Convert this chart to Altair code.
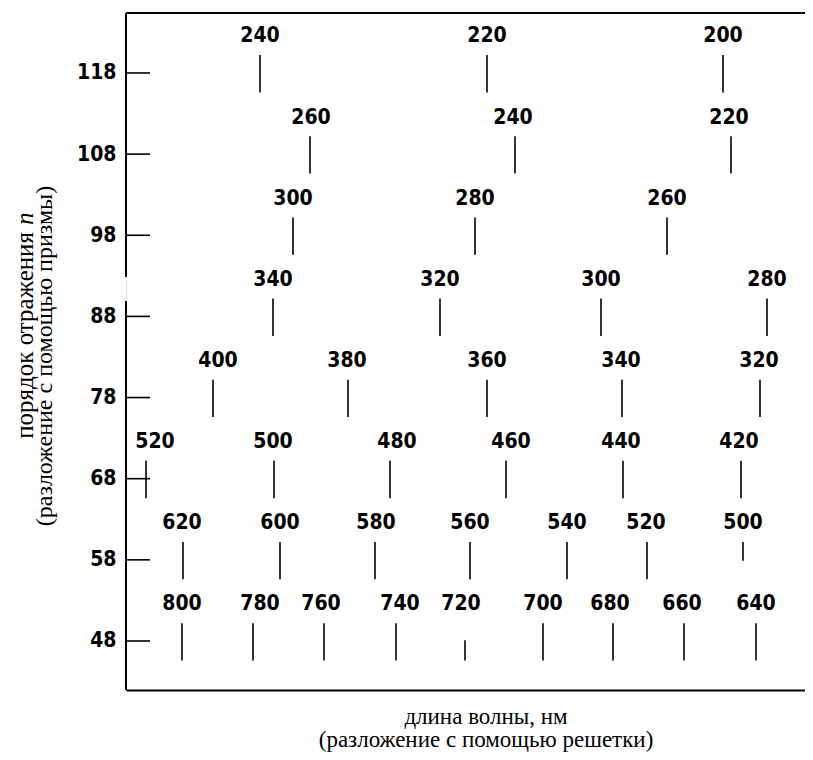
import altair as alt
import pandas as pd

# diffraction order (prism axis)
orders = [118, 118, 118,
          108, 108, 108,
          98, 98, 98,
          88, 88, 88, 88,
          78, 78, 78, 78, 78,
          68, 68, 68, 68, 68, 68,
          58, 58, 58, 58, 58, 58, 58,
          48, 48, 48, 48, 48, 48, 48, 48, 48]
# wavelength labels, nm
wavelengths = [240, 220, 200,
               260, 240, 220,
               300, 280, 260,
               340, 320, 300, 280,
               400, 380, 360, 340, 320,
               520, 500, 480, 460, 440, 420,
               620, 600, 580, 560, 540, 520, 500,
               800, 780, 760, 740, 720, 700, 680, 660, 640]
# horizontal position along the grating-dispersion axis (arbitrary units)
positions = [134, 361, 597,
             184, 389, 605,
             167, 349, 541,
             147, 314, 475, 641,
             87, 222, 361, 496, 634,
             20, 148, 264, 380, 497, 615,
             57, 154, 249, 344, 441, 521, 617,
             56, 127, 198, 270, 339, 417, 487, 558, 630]
label_positions = [134, 361, 597,
                   185, 387, 603,
                   167, 349, 541,
                   147, 314, 475, 641,
                   92, 221, 361, 495, 633,
                   29, 147, 271, 385, 495, 613,
                   56, 154, 250, 344, 441, 520, 617,
                   56, 134, 195, 274, 335, 417, 484, 556, 630]
# vertical extent of each line, relative to its order
line_up = [2.2] * len(orders)
line_down = [2.4] * len(orders)
line_up[35] = 0.1   # 720 nm line is short
line_down[30] = 0.1  # 500 nm (order 58) short

tick_orders = [48, 58, 68, 78, 88, 98, 108, 118]

W, H = 679, 677
Y_DOMAIN = [41.96, 125.39]
X_DOMAIN = [0, W]

df = pd.DataFrame({
    "order": orders,
    "wl": [str(w) for w in wavelengths],
    "pos": positions,
    "lpos": label_positions,
})
df["top"] = [o + u for o, u in zip(orders, line_up)]
df["bot"] = [o - d for o, d in zip(orders, line_down)]
df["ly"] = [o + 4.5 for o in orders]

xs = alt.Scale(domain=X_DOMAIN, nice=False, zero=False)
ys = alt.Scale(domain=Y_DOMAIN, nice=False, zero=False)

LABEL_FONT = "Liberation Sans Narrow, DejaVu Sans Condensed, Liberation Sans, Arial, sans-serif"
SERIF = "Liberation Serif, Times New Roman, serif"

base = alt.Chart(df)

lines = base.mark_rule(color="black", strokeWidth=1.6).encode(
    x=alt.X("pos:Q", scale=xs,
            axis=alt.Axis(labels=False, ticks=False, grid=False, title=None,
                          domainColor="black", domainWidth=2)),
    y=alt.Y("top:Q", scale=ys,
            axis=alt.Axis(values=tick_orders, ticks=False, grid=False, title=None,
                          labelFont=LABEL_FONT, labelFontSize=21, labelFontWeight="bold",
                          labelColor="black", labelPadding=10, domain=False)),
    y2="bot:Q",
)

labels = base.mark_text(font=LABEL_FONT, fontSize=21, fontWeight="bold",
                        color="black", baseline="middle", align="center").encode(
    x=alt.X("lpos:Q", scale=xs),
    y=alt.Y("ly:Q", scale=ys),
    text="wl:N",
)

ticks = alt.Chart(pd.DataFrame({"t": tick_orders})).mark_rule(
    color="black", strokeWidth=1.6).encode(
    y=alt.Y("t:Q", scale=ys),
    x=alt.value(0),
    x2=alt.value(24),
)

one = pd.DataFrame({"a": [0]})
top_line = alt.Chart(one).mark_rule(color="black", strokeWidth=2).encode(
    x=alt.value(0), x2=alt.value(W), y=alt.value(0)
)
# left frame line, with the small break seen between orders 88 and 98
left_upper = alt.Chart(one).mark_rule(color="black", strokeWidth=2).encode(
    x=alt.value(0), y=alt.value(0), y2=alt.value(264)
)
left_lower = alt.Chart(one).mark_rule(color="black", strokeWidth=2).encode(
    x=alt.value(0), y=alt.value(288), y2=alt.value(H)
)

TFS = 23
xt1 = alt.Chart(one).mark_text(font=SERIF, fontSize=TFS, color="black",
                               align="center", baseline="middle").encode(
    x=alt.value(360), y=alt.value(H + 27), text=alt.value("длина волны, нм"))
xt2 = alt.Chart(one).mark_text(font=SERIF, fontSize=TFS, color="black",
                               align="center", baseline="middle").encode(
    x=alt.value(360), y=alt.value(H + 50), text=alt.value("(разложение с помощью решетки)"))

yt1a = alt.Chart(one).mark_text(font=SERIF, fontSize=25, color="black", angle=270,
                                align="right", baseline="middle").encode(
    x=alt.value(-101), y=alt.value(219), text=alt.value("порядок отражения"))
yt1b = alt.Chart(one).mark_text(font=SERIF, fontSize=25, color="black", angle=270,
                                fontStyle="italic", align="left", baseline="middle").encode(
    x=alt.value(-101), y=alt.value(212), text=alt.value("n"))
yt2 = alt.Chart(one).mark_text(font=SERIF, fontSize=24, color="black", angle=270,
                               align="center", baseline="middle").encode(
    x=alt.value(-81), y=alt.value(343), text=alt.value("(разложение с помощью  призмы)"))

chart = alt.layer(lines, labels, ticks, top_line, left_upper, left_lower,
                  xt1, xt2, yt1a, yt1b, yt2).properties(
    width=W, height=H,
    autosize=alt.AutoSizeParams(type="none"),
    padding={"left": 118, "top": 5, "right": 0, "bottom": 62},
).configure_view(stroke=None).configure(background="white")

chart.save("out.html", embed_options={"renderer": "svg", "actions": False})
